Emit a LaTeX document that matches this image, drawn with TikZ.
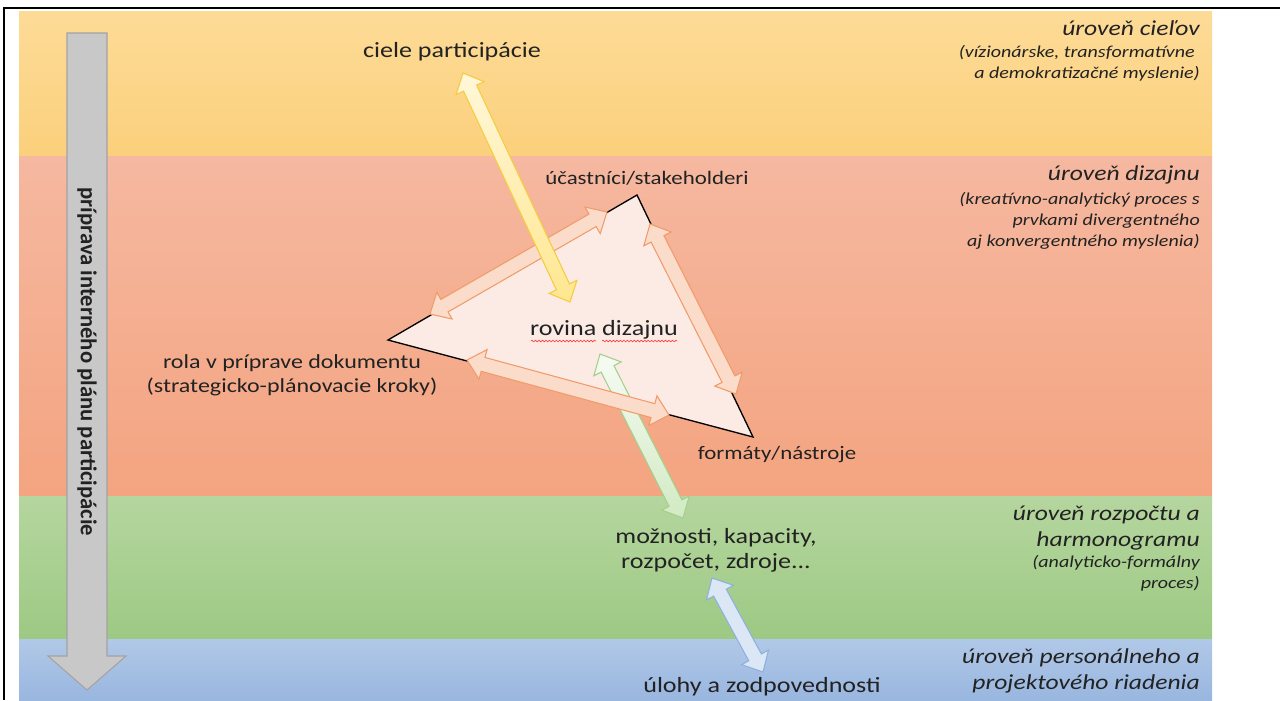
\documentclass[tikz,border=0pt]{standalone}
\usepackage{fontspec}
\setmainfont{Carlito}[FakeStretch=1.2]
\newfontfamily\shaftfont{Carlito}
\usetikzlibrary{calc,decorations.pathmorphing}

\definecolor{ylA}{HTML}{FDDB97}
\definecolor{ylB}{HTML}{FBD07C}
\definecolor{saA}{HTML}{F5B8A0}
\definecolor{saB}{HTML}{F4A480}
\definecolor{grA}{HTML}{B5D69F}
\definecolor{grB}{HTML}{9DC983}
\definecolor{blA}{HTML}{B1C9E8}
\definecolor{blB}{HTML}{99B6DF}
\definecolor{gyFill}{HTML}{C8C8C8}
\definecolor{gyLine}{HTML}{A3A3A3}
\definecolor{triFill}{HTML}{FCEBE4}
\definecolor{orFill}{HTML}{FBDCCB}
\definecolor{orLine}{HTML}{F19C68}
\definecolor{yaA}{HTML}{FFF7DA}
\definecolor{yaB}{HTML}{FFE790}
\definecolor{yaLine}{HTML}{F5CC40}
\definecolor{gaA}{HTML}{F6FBF3}
\definecolor{gaB}{HTML}{D2EAC4}
\definecolor{gaLine}{HTML}{A6CF8B}
\definecolor{baFill}{HTML}{DCE7F6}
\definecolor{baLine}{HTML}{8EB0DE}
\definecolor{txt}{HTML}{222222}

%% block double arrow: style, from, to
\newcommand\arrhl{12.5pt}
\newcommand\arrhw{11.5pt}
\newcommand\arrsw{5.4pt}
\newcommand\dblarrow[3]{%
  \draw[#1] (#2)
    -- ($(#2)!\arrhl!(#3)!\arrhw!90:(#3)$)
    -- ($(#2)!\arrhl!(#3)!\arrsw!90:(#3)$)
    -- ($(#3)!\arrhl!(#2)!\arrsw!-90:(#2)$)
    -- ($(#3)!\arrhl!(#2)!\arrhw!-90:(#2)$)
    -- (#3)
    -- ($(#3)!\arrhl!(#2)!\arrhw!90:(#2)$)
    -- ($(#3)!\arrhl!(#2)!\arrsw!90:(#2)$)
    -- ($(#2)!\arrhl!(#3)!\arrsw!-90:(#3)$)
    -- ($(#2)!\arrhl!(#3)!\arrhw!-90:(#3)$)
    -- cycle;}

\tikzset{
  lbl/.style={inner sep=0pt,text=txt,font=\fontsize{16.3}{18.5}\selectfont},
  smlbl/.style={inner sep=0pt,text=txt,font=\fontsize{14.3}{18}\selectfont},
  lvl/.style={anchor=east,align=right,inner sep=0pt,text=txt,
    font=\itshape\fontsize{16}{19.5}\selectfont},
  lvlsub/.style={anchor=east,align=right,inner sep=0pt,text=txt,
    font=\itshape\fontsize{12.5}{16}\selectfont},
  orarr/.style={draw=orLine,fill=orFill,line width=0.8pt},
  squig/.style={draw=red!75,line width=0.5pt,decorate,
    decoration={snake,amplitude=0.6pt,segment length=2.6pt}}
}

\begin{document}
\begin{tikzpicture}[x=0.75pt,y=-0.75pt]
\useasboundingbox (0,0) rectangle (1280,700);

%% levels
\shade[top color=ylA,bottom color=ylB] (19,11) rectangle (1212,156);    %% ciele
\shade[top color=saA,bottom color=saB] (19,156) rectangle (1212,496);   %% dizajn
\shade[top color=grA,bottom color=grB] (19,496) rectangle (1212,639);   %% rozpocet
\shade[top color=blA,bottom color=blB] (19,639) rectangle (1212,700);   %% personal

%% frame
\draw[line width=1.5pt] (1280,8) -- (4,8) -- (4,700);

%% preparation arrow
\draw[fill=gyFill,draw=gyLine,line width=0.8pt]
  (67,33) -- (107,33) -- (107,656) -- (126,656) -- (87,690) -- (48,656) -- (67,656) -- cycle;
\node[rotate=-90,inner sep=0pt,text=txt,font=\shaftfont\bfseries\fontsize{17}{20}\selectfont]
  (prip) at (87,362) {príprava interného plánu participácie};

%% design triangle
\coordinate (tT) at (637,195);
\coordinate (tL) at (388,340);
\coordinate (tR) at (753,437);
\draw[fill=triFill,line width=1pt] (tT) -- (tL) -- (tR) -- cycle;

%% arrow ends
\coordinate (yA) at (463,73);    %% ciele
\coordinate (yB) at (570,302);   %% rovina
\coordinate (oA1) at (430,314);  %% rola
\coordinate (oB1) at (607,212);  %% ucast
\coordinate (oA2) at (650,224);  %% ucast
\coordinate (oB2) at (736,394);  %% formaty
\coordinate (oA3) at (467,360);  %% rola
\coordinate (oB3) at (669,415);  %% formaty
\coordinate (gA) at (600,354);   %% rovina
\coordinate (gB) at (683,518);   %% moznosti
\coordinate (bA) at (712,578);   %% moznosti
\coordinate (bB) at (763,672);   %% ulohy

%% arrows
\dblarrow{draw=gaLine,top color=gaA,bottom color=gaB,line width=0.8pt}{gA}{gB}
\dblarrow{orarr}{oA1}{oB1}
\dblarrow{orarr}{oA2}{oB2}
\dblarrow{orarr}{oA3}{oB3}
\dblarrow{draw=yaLine,top color=yaA,bottom color=yaB,line width=0.8pt}{yA}{yB}
\dblarrow{draw=baLine,fill=baFill,line width=0.8pt}{bA}{bB}

%% labels
\node[lbl] (ciele) at (452,52) {ciele participácie};
\node[smlbl] (ucast) at (647,178) {účastníci/stakeholderi};
\node[lbl] (rovina) at (604,330) {rovina dizajnu};
\draw[squig] (531,341) -- (596,341);
\draw[squig] (602,341) -- (677,341);
\node[lbl,align=center,font=\fontsize{15}{18}\selectfont] (rola) at (292,375)
  {rola v príprave dokumentu\\(strategicko-plánovacie kroky)};
\node[smlbl] (formaty) at (777,455) {formáty/nástroje};
\node[lbl,align=center] (moznosti) at (716,550) {možnosti, kapacity,\\rozpočet, zdroje...};
\node[lbl] (ulohy) at (762,687) {úlohy a zodpovednosti};

%% level texts
\node[lvl] (lv1) at (1200,28) {úroveň cieľov};
\node[lvlsub] (lv1s) at (1200,63) {(vízionárske, transformatívne\hspace*{0.3em}\\a demokratizačné myslenie)};
\node[lvl] (lv2) at (1200,175) {úroveň dizajnu};
\node[lvlsub] (lv2s) at (1200,221) {(kreatívno-analytický proces s\\prvkami divergentného\\aj konvergentného myslenia)};
\node[lvl] (lv3) at (1200,528) {úroveň rozpočtu a\\harmonogramu};
\node[lvlsub] (lv3s) at (1200,573) {(analyticko-formálny\\proces)};
\node[lvl] (lv4) at (1200,671) {úroveň personálneho a\\projektového riadenia};
\end{tikzpicture}
\end{document}
